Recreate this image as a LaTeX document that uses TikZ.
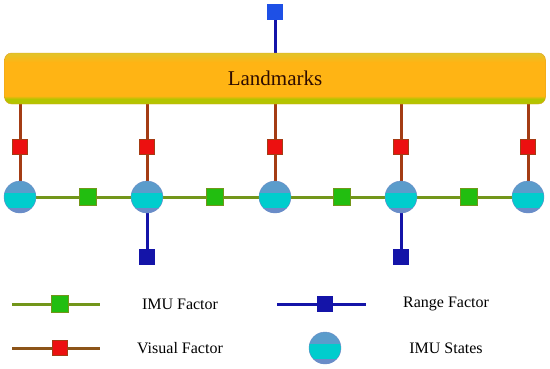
\documentclass[tikz,border=0pt]{standalone}
\usepackage{fontspec}
\setmainfont{Liberation Serif}
\usepackage{xcolor}
\usetikzlibrary{backgrounds}
\definecolor{lmtop}{HTML}{E2C42A}
\definecolor{lmmid}{HTML}{FFB414}
\definecolor{lmbot}{HTML}{B4C400}
\definecolor{lmedge}{HTML}{E0A020}
\definecolor{lmtext}{HTML}{2E0C00}
\definecolor{stblue}{HTML}{5B9CCB}
\definecolor{stcyan}{HTML}{00CDCD}
\definecolor{stlow}{HTML}{6A8CC8}
\definecolor{imug}{HTML}{72961A}
\definecolor{visr}{HTML}{A43C14}
\definecolor{visl}{HTML}{8C5418}
\definecolor{rngb}{HTML}{1414A8}
\definecolor{topb}{HTML}{1E50E6}
\definecolor{sqg}{HTML}{22BE10}
\definecolor{sqr}{HTML}{EC1010}
\pgfdeclareverticalshading{lmshade}{100bp}{color(0bp)=(lmbot); color(25bp)=(lmbot); color(30bp)=(lmbot); color(33bp)=(lmmid); color(66bp)=(lmmid); color(75bp)=(lmtop); color(100bp)=(lmtop)}
\tikzset{
  st/.style={circle,minimum size=32pt,inner sep=0pt,fill=stblue,draw=stlow,line width=0.4pt,
    path picture={
      \fill[stlow] (path picture bounding box.south west) rectangle ([yshift=5pt]path picture bounding box.south east);
      \fill[stcyan] ([yshift=5pt]path picture bounding box.south west) rectangle ([yshift=20pt]path picture bounding box.south east);
    }},
  imf/.style={rectangle,minimum size=16.5pt,inner sep=0pt,fill=sqg,draw=imug,line width=0.6pt},
  vf/.style={rectangle,minimum size=15pt,inner sep=0pt,fill=sqr,draw=visr,line width=1.8pt},
  rf/.style={rectangle,minimum size=16.5pt,inner sep=0pt,fill=rngb},
  lk/.style={line width=3pt},
  lbl/.style={font=\fontsize{16}{19}\selectfont,anchor=center}
}
\begin{document}
\begin{tikzpicture}[x=1pt,y=1pt]
\useasboundingbox (0,0) rectangle (550,368);
% landmarks and top range factor
\node[draw=lmedge,rounded corners=7pt,shade,shading=lmshade,minimum width=541pt,minimum height=51pt,inner sep=0pt,
  font=\fontsize{21}{24}\selectfont,text=lmtext] (lm) at (275,289.5) {Landmarks};
\node[rf,fill=topb] (rt) at (275,356) {};
% states and factors
\foreach \x [count=\i] in {20,147,275,401,528} {
  \node[st] (s\i) at (\x,171) {};
  \node[vf] (v\i) at (\x,221) {};
}
\foreach \x [count=\i] in {88,215,342,469} \node[imf] (g\i) at (\x,171) {};
\node[rf] (r1) at (147,111) {};
\node[rf] (r2) at (401,111) {};
% legend
\coordinate (a1) at (12,64); \coordinate (a2) at (100,64);
\coordinate (b1) at (12,20); \coordinate (b2) at (100,20);
\coordinate (c1) at (277,64); \coordinate (c2) at (366,64);
\node[imf] (li) at (60,64) {};
\node[vf] (lv) at (60,20) {};
\node[rf] (lr) at (325,64) {};
\node[st] (ls) at (325,20) {};
\node[lbl] (ti) at (180,64) {IMU Factor};
\node[lbl] (tv) at (180,20) {Visual Factor};
\node[lbl] (tr) at (446,64) {Range Factor};
\node[lbl] (ts) at (446,20) {IMU States};
\begin{pgfonlayer}{background}
\draw[lk,imug] (s1) -- (s5);
\foreach \i in {1,...,5} \draw[lk,visr] (lm.south -| v\i) -- (s\i);
\draw[lk,rngb] (s2) -- (r1);
\draw[lk,rngb] (s4) -- (r2);
\draw[lk,rngb] (rt) -- (lm);
\draw[lk,imug] (a1) -- (a2);
\draw[lk,visl] (b1) -- (b2);
\draw[lk,rngb] (c1) -- (c2);
\end{pgfonlayer}
\end{tikzpicture}
\end{document}
